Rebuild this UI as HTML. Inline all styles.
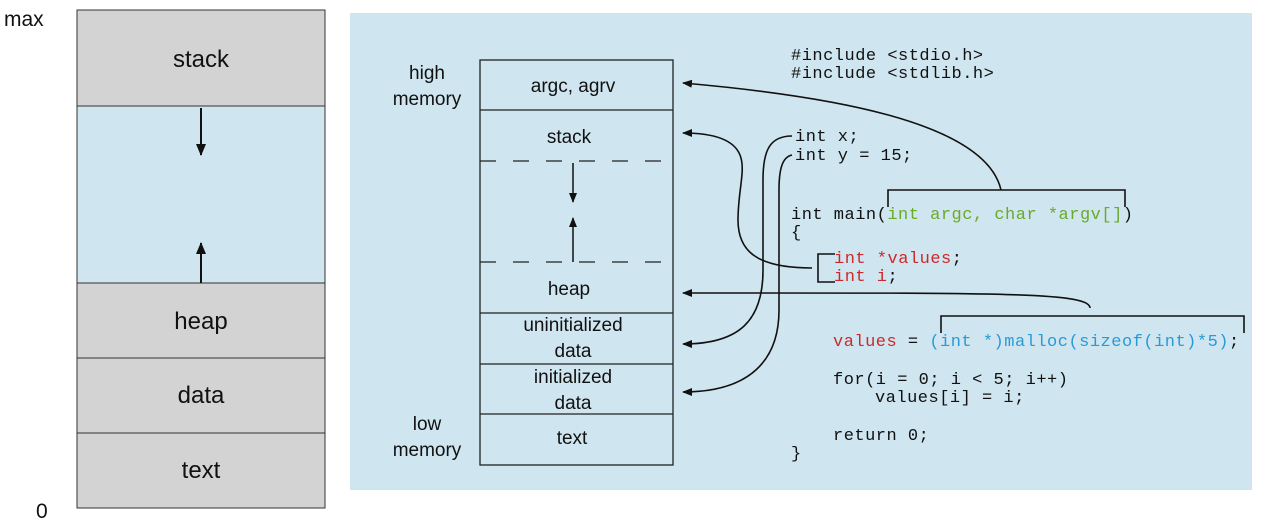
<!DOCTYPE html>
<html><head><style>
body{margin:0;width:1262px;height:525px;background:#fff;overflow:hidden}
svg{display:block}
.s{font-family:"Liberation Sans",sans-serif;fill:#111}
.m{font-family:"Liberation Mono",monospace;font-size:17px;letter-spacing:0.5px;fill:#111}
</style></head><body>
<svg width="1262" height="525" viewBox="0 0 1262 525" xmlns="http://www.w3.org/2000/svg">
<defs><marker id="a" markerWidth="10" markerHeight="8" refX="9" refY="4" orient="auto" markerUnits="userSpaceOnUse"><path d="M0,0 L10,4 L0,8 Z" fill="#111"/></marker>
<marker id="b" markerWidth="12" markerHeight="10" refX="11" refY="5" orient="auto" markerUnits="userSpaceOnUse"><path d="M0,0 L12,5 L0,10 Z" fill="#111"/></marker></defs>
<!-- left panel -->
<text x="4" y="26" class="s" font-size="21">max</text>
<text x="36" y="518" class="s" font-size="21">0</text>
<rect x="77" y="10" width="248" height="498" fill="#d3d3d3" stroke="#333"/>
<rect x="77.5" y="106" width="247" height="177" fill="#cfe5ef"/>
<g stroke="#333" stroke-width="1"><line x1="77" y1="106" x2="325" y2="106"/><line x1="77" y1="283" x2="325" y2="283"/><line x1="77" y1="358" x2="325" y2="358"/><line x1="77" y1="433" x2="325" y2="433"/></g>
<g stroke="#111" stroke-width="2"><line x1="201" y1="108" x2="201" y2="155" marker-end="url(#b)"/><line x1="201" y1="283" x2="201" y2="243" marker-end="url(#b)"/></g>
<g class="s" font-size="24" text-anchor="middle"><text x="201" y="67">stack</text><text x="201" y="329">heap</text><text x="201" y="403">data</text><text x="201" y="478">text</text></g>
<!-- right panel -->
<rect x="350" y="13" width="902" height="477" fill="#cfe5ef"/>
<rect x="480" y="60" width="193" height="405" fill="none" stroke="#222" stroke-width="1.3"/>
<g stroke="#222" stroke-width="1.3"><line x1="480" y1="110" x2="673" y2="110"/><line x1="480" y1="313" x2="673" y2="313"/><line x1="480" y1="364" x2="673" y2="364"/><line x1="480" y1="414" x2="673" y2="414"/></g>
<g stroke="#222" stroke-width="1.3" stroke-dasharray="16,17"><line x1="480" y1="161" x2="673" y2="161"/><line x1="480" y1="262" x2="673" y2="262"/></g>
<g stroke="#111" stroke-width="1.5"><line x1="573" y1="163" x2="573" y2="202" marker-end="url(#a)"/><line x1="573" y1="262" x2="573" y2="218" marker-end="url(#a)"/></g>
<g class="s" font-size="19" text-anchor="middle">
<text x="427" y="79">high</text><text x="427" y="105">memory</text>
<text x="427" y="430">low</text><text x="427" y="456">memory</text>
<text x="573" y="92">argc, agrv</text><text x="569" y="143">stack</text><text x="569" y="295">heap</text>
<text x="573" y="331">uninitialized</text><text x="573" y="357">data</text>
<text x="573" y="383">initialized</text><text x="573" y="409">data</text>
<text x="572" y="444">text</text></g>
<!-- connectors -->
<g fill="none" stroke="#111" stroke-width="1.6">
<path d="M1001,190 C985,120 820,95 683,83" marker-end="url(#a)"/>
<path d="M888,207 V190 H1125 V207"/>
<path d="M812,268 C755,268 738,250 738,220 C738,190 746,170 740,155 C734,140 715,133 683,133" marker-end="url(#a)"/>
<path d="M835,254 H818 V282 H835"/>
<path d="M792,136 C770,136 763,150 763,180 L763,270 C763,320 740,344 683,344" marker-end="url(#a)"/>
<path d="M792,155 C782,157 779,170 779,190 L779,310 C779,360 750,392 683,392" marker-end="url(#a)"/>
<path d="M1090,308 C1090,292 1000,293 683,293" marker-end="url(#a)"/>
<path d="M941,333 V316 H1244 V333"/>
</g>
<!-- code -->
<g class="m">
<text x="791" y="60">#include &lt;stdio.h&gt;</text>
<text x="791" y="78">#include &lt;stdlib.h&gt;</text>
<text x="795" y="141">int x;</text>
<text x="795" y="160">int y = 15;</text>
<text x="791" y="219">int main(<tspan fill="#6aaa2a">int argc, char *argv[]</tspan>)</text>
<text x="791" y="237">{</text>
<text x="834" y="263" fill="#cc2a2a">int *values<tspan fill="#111">;</tspan></text>
<text x="834" y="281" fill="#cc2a2a">int i<tspan fill="#111">;</tspan></text>
<text x="833" y="346"><tspan fill="#cc2a2a">values</tspan> = <tspan fill="#2a9ad6">(int *)malloc(sizeof(int)*5)</tspan>;</text>
<text x="833" y="384">for(i = 0; i &lt; 5; i++)</text>
<text x="875" y="402">values[i] = i;</text>
<text x="833" y="440">return 0;</text>
<text x="791" y="458">}</text>
</g>
</svg>
</body></html>
